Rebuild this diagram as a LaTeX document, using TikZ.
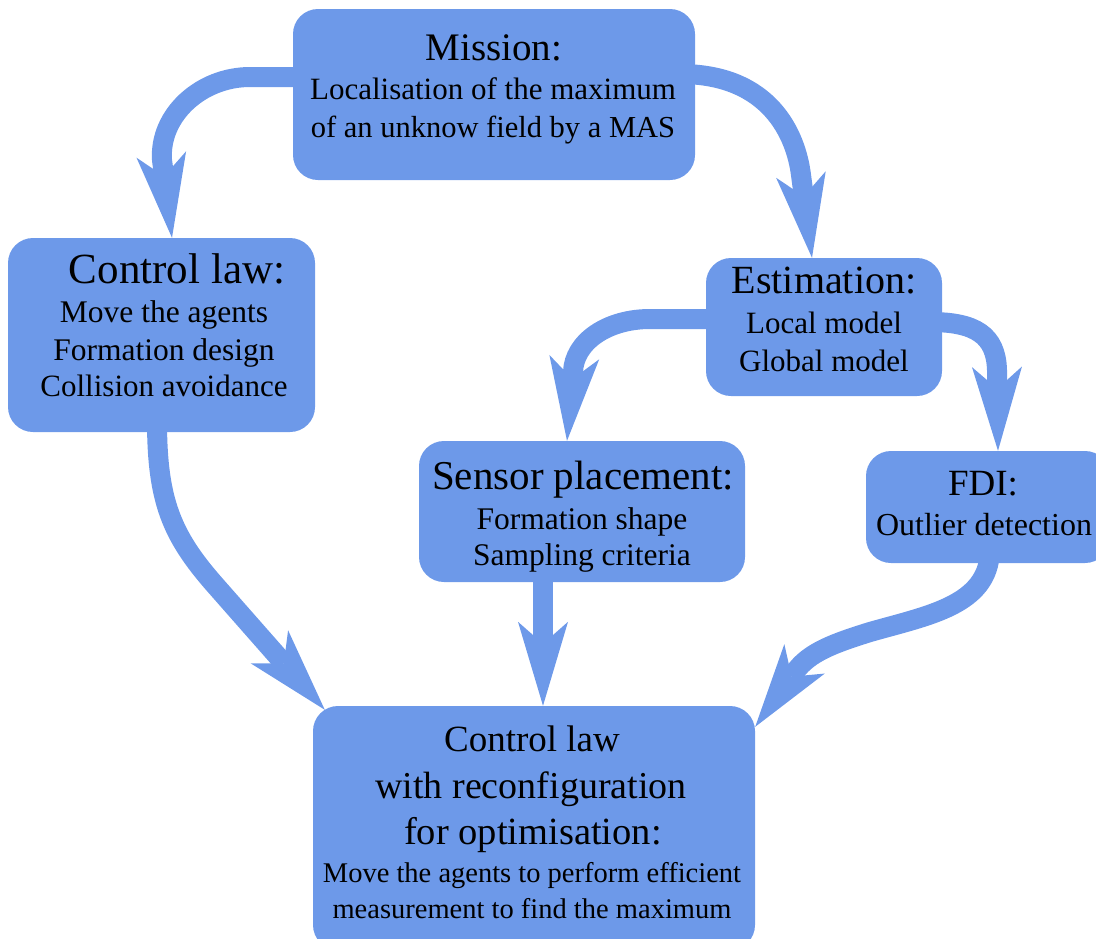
\documentclass[tikz,border=0pt]{standalone}
\usepackage{fontspec}
\setmainfont{Liberation Serif}
\usetikzlibrary{arrows.meta,calc}
\definecolor{boxblue}{RGB}{109,153,233}
\pgfdeclarelayer{bg}
\pgfsetlayers{bg,main}
\newcommand\fsz[1]{\fontsize{#1}{#1}\selectfont}
\begin{document}
\begin{tikzpicture}[x=1pt,y=-1pt,
  box/.style={draw=none, fill=boxblue, rounded corners=25pt, inner sep=0pt},
  txt/.style={inner sep=0pt, anchor=base, text=black},
  conn/.style={draw=boxblue, line width=20pt,
    -{Stealth[length=84pt, width=50pt, inset=22pt, line width=0pt]}}]
\useasboundingbox (0,0) rectangle (1096,938);
% boxes
\node[box, minimum width=402pt, minimum height=171pt] (mission) at (494,94.5) {};
\node[box, minimum width=307pt, minimum height=194pt] (cl) at (161.5,335) {};
\node[box, minimum width=236pt, minimum height=138pt] (est) at (824,327) {};
\node[box, minimum width=326pt, minimum height=141pt] (sens) at (582,511.5) {};
\node[box, minimum width=244pt, minimum height=112pt] (fdi) at (988,507) {};
\node[box, minimum width=442pt, minimum height=244pt] (bot) at (534,828) {};
% texts
\node[txt, font=\fsz{39}] (m1) at (494,60) {Mission:};
\node[txt, font=\fsz{31}] (m2) at (493,99) {Localisation of the maximum};
\node[txt, font=\fsz{30.5}] (m3) at (493,137) {of an unknow field by a MAS};
\node[txt, font=\fsz{43}] (c1) at (177,283) {Control law:};
\node[txt, font=\fsz{31.5}] (c2) at (164,322) {Move the agents};
\node[txt, font=\fsz{31.5}] (c3) at (164,360) {Formation design};
\node[txt, font=\fsz{31}] (c4) at (164,396) {Collision avoidance};
\node[txt, font=\fsz{40}] (e1) at (824,293) {Estimation:};
\node[txt, font=\fsz{31}] (e2) at (824,333) {Local model};
\node[txt, font=\fsz{31}] (e3) at (824,371) {Global model};
\node[txt, font=\fsz{41}] (s1) at (583,489) {Sensor placement:};
\node[txt, font=\fsz{31.5}] (s2) at (582,529) {Formation shape};
\node[txt, font=\fsz{31.5}] (s3) at (582,565) {Sampling criteria};
\node[txt, font=\fsz{37}] (f1) at (983,495) {FDI:};
\node[txt, font=\fsz{32}] (f2) at (984,535) {Outlier detection};
\node[txt, font=\fsz{37}] (b1) at (532,751) {Control law};
\node[txt, font=\fsz{38}] (b2) at (531,798) {with reconfiguration};
\node[txt, font=\fsz{38.5}] (b3) at (533,844) {for optimisation:};
\node[txt, font=\fsz{28.5}] (b4) at (532,882) {Move the agents to perform efficient};
\node[txt, font=\fsz{28.5}] (b5) at (532,918) {measurement to find the maximum};
% connectors
\begin{pgfonlayer}{bg}
\draw[conn] ([xshift=15pt,yshift=17.5pt]mission.west) -- (250,77) .. controls (201,77) and (159,115) .. (162,160) -- ([xshift=10.5pt]cl.north);
\draw[conn] ([xshift=-15pt,yshift=20.5pt]mission.east) .. controls (770,74) and (796,135) .. (801,175) -- ([xshift=-12pt]est.north);
\draw[conn] ([xshift=14pt,yshift=8pt]est.west) -- (650,319) .. controls (607,319) and (574,342) .. (573,372) -- ([xshift=-15pt]sens.north);
\draw[conn] ([xshift=-12pt,yshift=5pt]est.east) .. controls (975,322) and (996,335) .. (997,370) -- ([xshift=10pt]fdi.north);
\draw[conn] ([xshift=-4.5pt,yshift=12pt]cl.south) .. controls (157,500) and (171,535) .. (215,585) -- ([xshift=12pt,yshift=-4pt]bot.north west);
\draw[conn] ([xshift=-39pt,yshift=12pt]sens.south) -- ([xshift=9pt]bot.north);
\draw[conn] ([xshift=2pt,yshift=12pt]fdi.south) .. controls (988,605) and (930,615) .. (870,632) .. controls (835,643) and (809,652) .. (795,672) -- ([yshift=-21pt]bot.north east);
\end{pgfonlayer}
\end{tikzpicture}
\end{document}
